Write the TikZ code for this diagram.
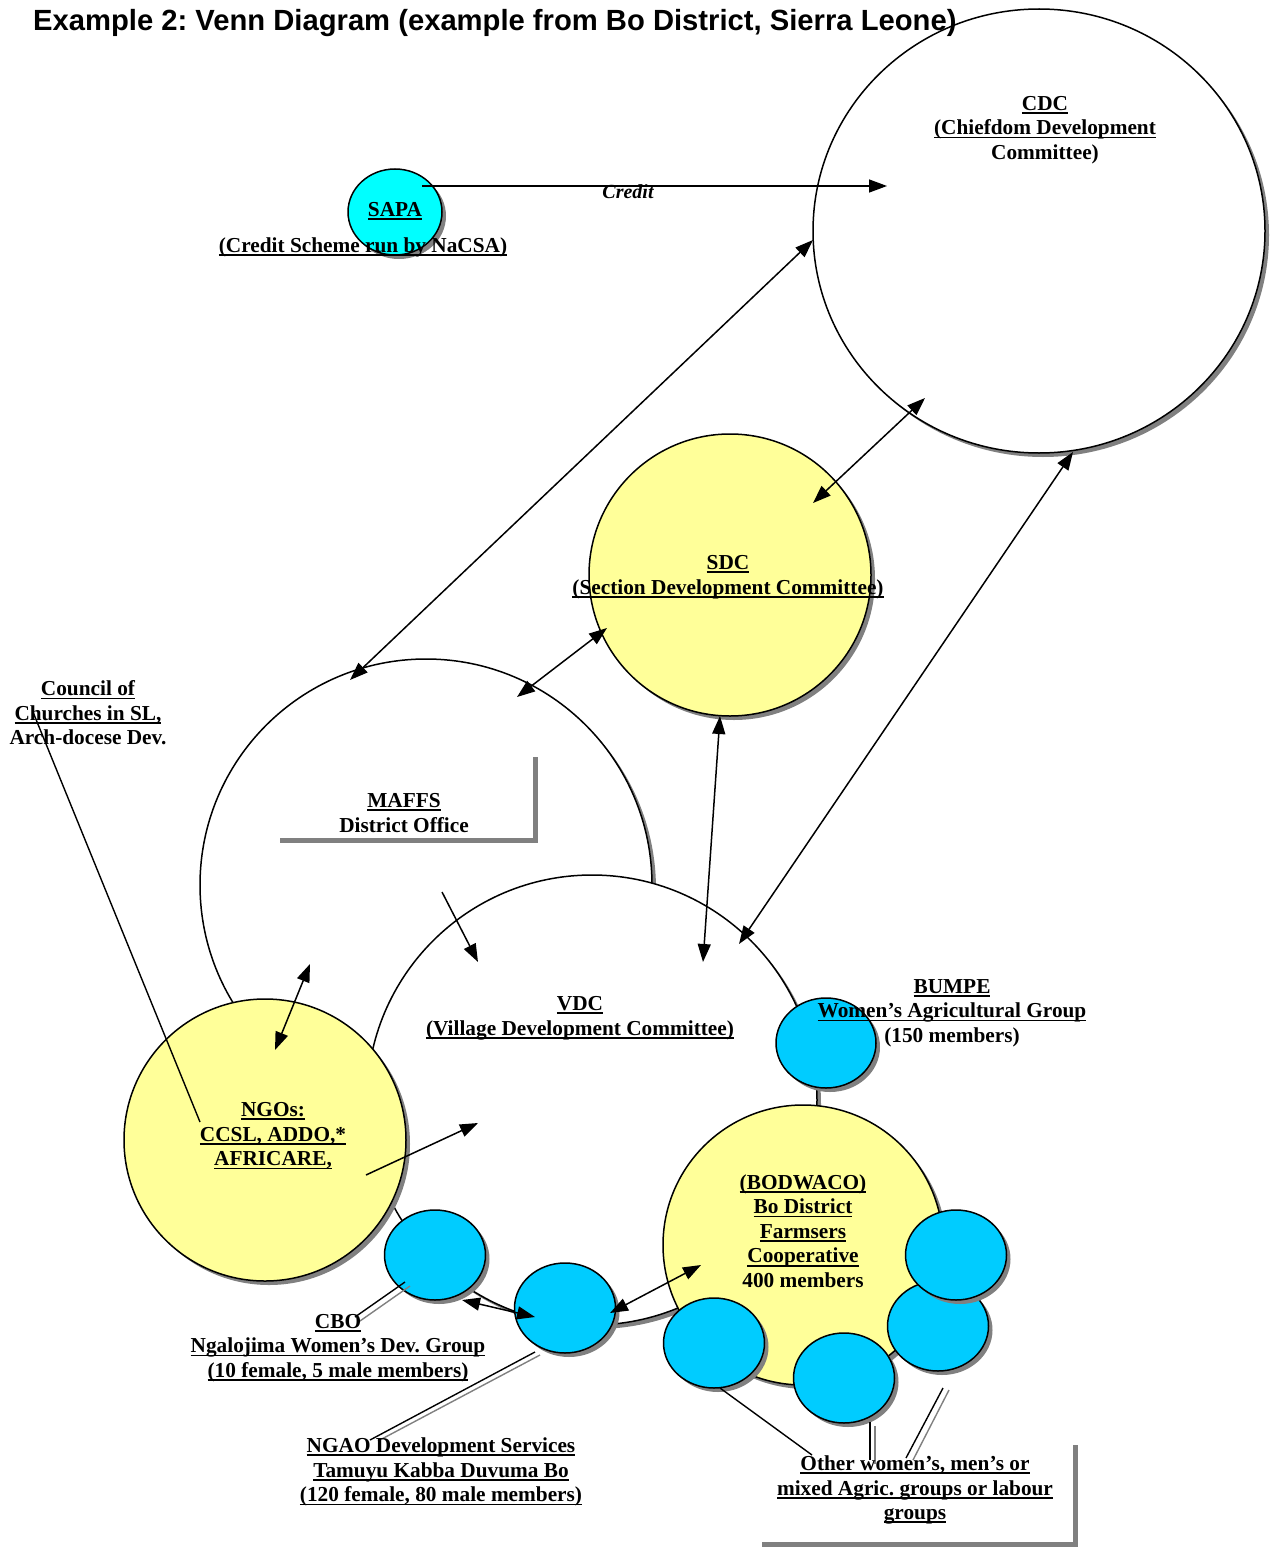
\documentclass[tikz,border=0pt]{standalone}
\usepackage{fontspec}
\setmainfont{Liberation Serif}
\newfontfamily\titlefont{Liberation Sans}
\usetikzlibrary{arrows.meta,positioning,calc,shapes.geometric,shadows}
\frenchspacing

\definecolor{venncyan}{HTML}{00FFFF}
\definecolor{vennblue}{HTML}{00CCFF}
\definecolor{vennyellow}{HTML}{FFFF99}
\definecolor{venngray}{HTML}{808080}

% underline at a fixed depth under the baseline
\newcommand{\ulin}[1]{\leavevmode{\setbox0=\hbox{#1}\rlap{\rule[-3.6pt]{\wd0}{1.8pt}}\box0}}

\tikzset{
  castshadow/.style={drop shadow={shadow xshift=4pt, shadow yshift=-4pt, fill=venngray, opacity=1}},
  ring/.style={circle, draw=black, line width=1.5pt, fill=white, inner sep=0pt, outer sep=0pt, castshadow},
  yellowring/.style={ring, fill=vennyellow},
  blueblob/.style={ellipse, draw=black, line width=1.5pt, fill=vennblue, inner sep=0pt, outer sep=0pt,
    minimum width=101pt, minimum height=90pt, castshadow},
  labelbox/.style={rectangle, fill=white, inner sep=0pt,
    drop shadow={shadow xshift=5pt, shadow yshift=-5pt, fill=venngray, opacity=1}},
  tag/.style={align=center, inner sep=0pt, yshift=-2pt, font=\bfseries\fontsize{21.3}{24.6}\selectfont},
  link/.style={line width=1.5pt, -{Triangle[length=18pt,width=13pt]}},
  bilink/.style={line width=1.5pt, {Triangle[length=18pt,width=13pt]}-{Triangle[length=18pt,width=13pt]}},
  leader/.style={line width=1.4pt},
  leadershade/.style={line width=1.4pt, venngray}
}

\begin{document}
\begin{tikzpicture}[x=1pt, y=-1pt]
  \useasboundingbox (0,0) rectangle (1271,1549);

  % circles
  \node (CDC) [ellipse, draw=black, line width=1.5pt, fill=white, inner sep=0pt, outer sep=0pt,
    minimum width=452pt, minimum height=444pt, castshadow] at (1039,231) {};
  \node (MAFFS) [ring, minimum size=452pt] at (426,885) {};
  \node (MAFFS-box) [labelbox, minimum width=258pt, minimum height=86pt] at (404,795) {};
  \node (VDC) [ring, minimum size=450pt] at (592,1100) {};
  \node (SDC) [yellowring, minimum size=282pt] at (730,575) {};
  \node (SAPA) [ellipse, draw=black, line width=1.5pt, fill=venncyan, inner sep=0pt,
    minimum width=94pt, minimum height=86pt, castshadow] at (395,212) {};
  \node (NGO) [yellowring, minimum size=282pt] at (265,1140) {};
  \node (BUMPE) [blueblob, minimum width=100pt] at (826,1043) {};
  \node (BODWACO) [yellowring, minimum size=280pt] at (803,1245) {};
  \node (CBO) [blueblob] at (435,1255) {};
  \node (NGAO) [blueblob] at (565,1308) {};
  \node (grp1) [blueblob] at (714,1343) {};
  \node (grp2) [blueblob] at (844,1378) {};
  \node (grp3) [blueblob] at (938,1326) {};
  \node (grp4) [blueblob] at (956,1255) {};
  \node (other-box) [labelbox, minimum width=316pt, minimum height=102pt] at (915,1491) {};

  % connector ends
  \coordinate (credit-a) at (422,186);
  \coordinate (credit-b) at (887,186);
  \coordinate (mc-a) at (350,680);
  \coordinate (mc-b) at (813,240);
  \coordinate (cs-a) at (925,398);
  \coordinate (cs-b) at (813,503);
  \coordinate (sm-a) at (607,628);
  \coordinate (sm-b) at (517,697);
  \coordinate (sv-a) at (720,716);
  \coordinate (sv-b) at (703,962);
  \coordinate (cv-a) at (1073,452);
  \coordinate (cv-b) at (739,944);
  \coordinate (mv-a) at (442,892);
  \coordinate (mv-b) at (478,962);
  \coordinate (nm-a) at (310,964);
  \coordinate (nm-b) at (275,1050);
  \coordinate (nv-a) at (366,1175);
  \coordinate (nv-b) at (478,1123);
  \coordinate (council-a) at (33,712);
  \coordinate (council-b) at (200,1122);
  \coordinate (cn-a) at (462,1300);
  \coordinate (cn-b) at (535,1317);
  \coordinate (nb-a) at (610,1313);
  \coordinate (nb-b) at (701,1265);

  \path [link]
  (credit-a) edge node [pos=0.443, yshift=-6pt, font=\bfseries\itshape\fontsize{20}{23}\selectfont] (credit) {Credit} (credit-b)
  (mv-a) edge (mv-b)
  (nv-a) edge (nv-b);
  \path [bilink]
  (mc-a) edge (mc-b)
  (cs-a) edge (cs-b)
  (sm-a) edge (sm-b)
  (sv-a) edge (sv-b)
  (cv-a) edge (cv-b)
  (nm-a) edge (nm-b)
  (cn-a) edge (cn-b)
  (nb-a) edge (nb-b);
  \draw [leader] (council-a) -- (council-b);

  % leaders to the labels
  \draw [leadershade] ($(CBO)+(-25,31)$) -- +(-50,35);
  \draw [leader] ($(CBO)+(-30,27)$) -- +(-50,35);
  \draw [leadershade] ($(NGAO)+(-25,47)$) -- +(-162,86);
  \draw [leader] ($(NGAO)+(-30,44)$) -- +(-165,88);
  \draw [leader] ($(grp1)+(6,45)$) -- +(92,67);
  \draw [leadershade] ($(grp2)+(31,48)$) -- +(0,38);
  \draw [leader] ($(grp2)+(26,44)$) -- +(0,38);
  \draw [leadershade] ($(grp3)+(11,64)$) -- +(-36,70);
  \draw [leader] ($(grp3)+(5,62)$) -- +(-37,70);

  % texts
  \node (CDC-text) [tag] at (1045,128) {\ulin{CDC}\\ \ulin{(Chiefdom Development}\\ Committee)};
  \node (SAPA-text) [tag] at (395,209) {\ulin{SAPA}};
  \node (SAPA-sub) [tag] at (363,245) {\ulin{(Credit Scheme run by NaCSA)}};
  \node (SDC-text) [tag] at (728,575) {\ulin{SDC}\\ \ulin{(Section Development Committee)}};
  \node (council) [tag] at (88,711) {\ulin{Council of}\\ \ulin{Churches in SL,}\\ Arch-docese Dev.};
  \node (MAFFS-text) [tag] at (404,811) {\ulin{MAFFS}\\ District Office};
  \node (VDC-text) [tag] at (580,1016) {\ulin{VDC}\\ \ulin{(Village Development Committee)}};
  \node (BUMPE-text) [tag] at (952,1011) {\ulin{BUMPE}\\ \ulin{Women’s Agricultural Group}\\ (150 members)};
  \node (NGO-text) [tag] at (273,1134) {\ulin{NGOs:}\\ \ulin{CCSL, ADDO,*}\\ \ulin{AFRICARE,}};
  \node (BODWACO-text) [tag] at (803,1229) {\ulin{(BODWACO)}\\ \ulin{Bo District}\\ \ulin{Farmsers}\\ \ulin{Cooperative}\\ 400 members};
  \node (CBO-text) [tag] at (338,1346) {\ulin{CBO}\\ \ulin{Ngalojima Women’s Dev. Group}\\ \ulin{(10 female, 5 male members)}};
  \node (NGAO-text) [tag] at (441,1470) {\ulin{NGAO Development Services}\\ \ulin{Tamuyu Kabba Duvuma Bo}\\ \ulin{(120 female, 80 male members)}};
  \node (other-text) [tag] at (915,1488) {\ulin{Other women’s, men’s or}\\ \ulin{mixed Agric. groups or labour}\\ \ulin{groups}};

  \node (title) [anchor=base west, inner sep=0pt, font=\titlefont\bfseries\fontsize{29.2}{34}\selectfont] at (33,31)
    {Example 2: Venn Diagram (example from Bo District, Sierra Leone)};
\end{tikzpicture}
\end{document}
